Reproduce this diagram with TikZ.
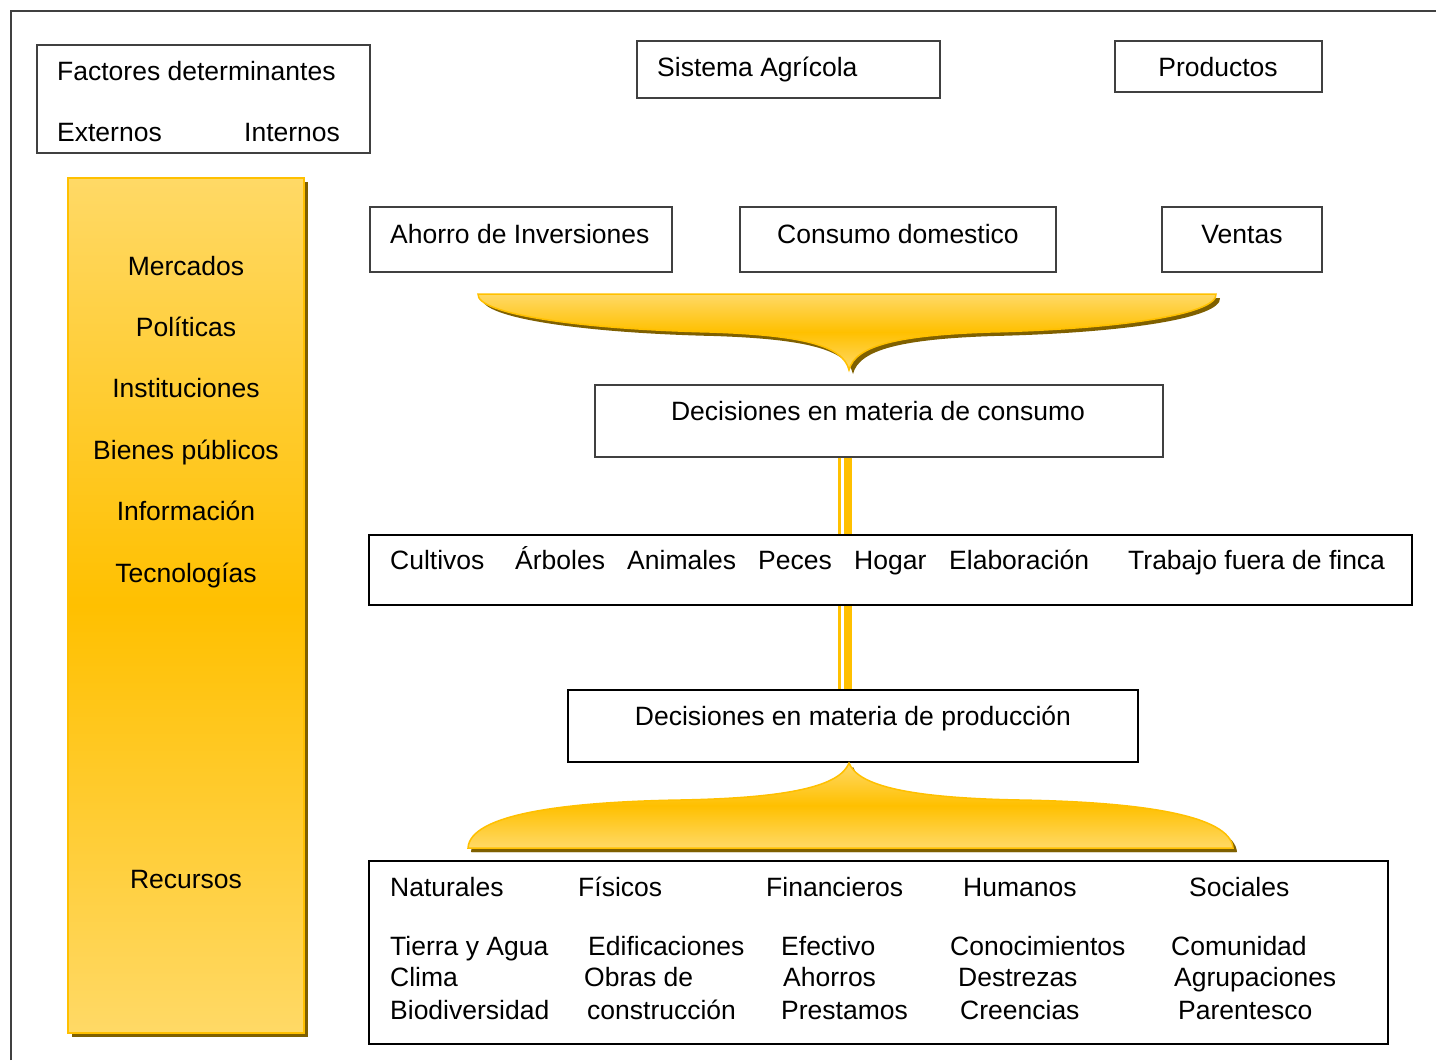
\documentclass[tikz,border=0pt]{standalone}
\usepackage{fontspec}
\setmainfont{Liberation Sans}
\usetikzlibrary{shadows}

\definecolor{oro}{RGB}{255,192,0}
\definecolor{oroclaro}{RGB}{255,217,102}
\definecolor{sombra}{RGB}{127,96,0}
\definecolor{gris}{RGB}{64,64,64}

\begin{document}
\begin{tikzpicture}[x=1bp,y=-1bp,font=\fontsize{26.5bp}{32bp}\selectfont]
	\tikzstyle{caja}=[draw=gris,line width=1.3bp,inner sep=0pt]
	\tikzstyle{caja fuerte}=[caja,draw=black,line width=2bp]
	\tikzstyle{texto}=[inner sep=0pt,anchor=base west]
	\tikzstyle{centrado}=[inner sep=0pt,anchor=base]
	\tikzstyle{dorado}=[draw=oro,line width=1.5bp,top color=oroclaro,bottom color=oroclaro,middle color=oro,
		general shadow={fill=sombra,shadow xshift=4bp,shadow yshift=-4bp}]
	\tikzstyle{conector}=[draw,line width=8bp,oro]
	\tikzstyle{conector fino}=[draw,line width=3bp,oro]

	\useasboundingbox (0,0) rectangle (1436,1060);
	\draw[gris,line width=1.5bp] (11,1060) -- (11,11) -- (1436,11);

	% cabecera
	\node[caja,minimum width=333bp,minimum height=108bp] (factores) at (203.5,99) {};
	\node[texto] (factores t) at (57,80) {Factores determinantes};
	\node[texto] (externos) at (57,141) {Externos};
	\node[texto] (internos) at (244,141) {Internos};
	\node[caja,minimum width=303bp,minimum height=57bp] (sistema) at (788.5,69.5) {};
	\node[texto] (sistema t) at (657,76) {Sistema Agrícola};
	\node[caja,minimum width=207bp,minimum height=51bp] (productos) at (1218.5,66.5) {};
	\node[centrado] (productos t) at (1218,76) {Productos};

	% columna de factores externos
	\node[dorado,minimum width=236bp,minimum height=855bp,inner sep=0pt] (barra) at (186,605.5) {};
	\node[centrado] (mercados) at (186,275) {Mercados};
	\node[centrado] (politicas) at (186,336) {Políticas};
	\node[centrado] (instituciones) at (186,397) {Instituciones};
	\node[centrado] (bienes) at (186,459) {Bienes públicos};
	\node[centrado] (informacion) at (186,520) {Información};
	\node[centrado] (tecnologias) at (186,582) {Tecnologías};
	\node[centrado] (recursos t) at (186,888) {Recursos};

	% productos
	\node[caja,minimum width=302bp,minimum height=65bp] (ahorro) at (521,239.5) {};
	\node[texto] (ahorro t) at (390,243) {Ahorro de Inversiones};
	\node[caja,minimum width=316bp,minimum height=65bp] (consumo) at (898,239.5) {};
	\node[centrado] (consumo t) at (898,243) {Consumo domestico};
	\node[caja,minimum width=160bp,minimum height=65bp] (ventas) at (1242,239.5) {};
	\node[centrado] (ventas t) at (1242,243) {Ventas};

	\path[dorado] (478,294) -- (1216,294) .. controls (1218,314) and (1120,329) .. (990,332)
		.. controls (900,335) and (855,345) .. (849,370) .. controls (843,345) and (800,335) .. (710,332)
		.. controls (580,329) and (476,314) .. cycle;

	% decisiones
	\node[caja,minimum width=568bp,minimum height=72bp] (dconsumo) at (879,421) {};
	\node[centrado] (dconsumo t) at (878,420) {Decisiones en materia de consumo};

	\node[caja fuerte,minimum width=1043bp,minimum height=70bp] (actividades) at (890.5,570) {};
	\node[texto] (cultivos) at (390,569) {Cultivos};
	\node[texto] (arboles) at (515,569) {Árboles};
	\node[texto] (animales) at (627,569) {Animales};
	\node[texto] (peces) at (758,569) {Peces};
	\node[texto] (hogar) at (854,569) {Hogar};
	\node[texto] (elaboracion) at (949,569) {Elaboración};
	\node[texto] (trabajo) at (1128,569) {Trabajo fuera de finca};

	\node[caja fuerte,minimum width=570bp,minimum height=72bp] (dprod) at (853,726) {};
	\node[centrado] (dprod t) at (853,725) {Decisiones en materia de producción};

	\coordinate (eje) at (847.5,0);
	\coordinate (eje fino) at (839.5,0);
	\draw[conector] (dconsumo.south -| eje) -- (actividades.north -| eje);
	\draw[conector fino] (dconsumo.south -| eje fino) -- (actividades.north -| eje fino);
	\draw[conector] (actividades.south -| eje) -- (dprod.north -| eje);
	\draw[conector fino] (actividades.south -| eje fino) -- (dprod.north -| eje fino);

	\path[dorado,general shadow={fill=sombra,shadow xshift=3bp,shadow yshift=-4bp}]
		(468,848) .. controls (470,815) and (560,802) .. (680,800)
		.. controls (790,798) and (840,786) .. (849,763) .. controls (858,786) and (910,798) .. (1020,800)
		.. controls (1140,802) and (1230,815) .. (1233,848) -- cycle;

	% recursos
	\node[caja fuerte,minimum width=1019bp,minimum height=183bp] (recursos) at (878.5,952.5) {};
	\node[texto] (naturales) at (390,896) {Naturales};
	\node[texto] (fisicos) at (578,896) {Físicos};
	\node[texto] (financieros) at (766,896) {Financieros};
	\node[texto] (humanos) at (963,896) {Humanos};
	\node[texto] (sociales) at (1189,896) {Sociales};

	\node[texto] (tierra) at (390,955) {Tierra y Agua};
	\node[texto] (clima) at (390,986) {Clima};
	\node[texto] (biodiversidad) at (390,1019) {Biodiversidad};
	\node[texto] (edificaciones) at (588,955) {Edificaciones};
	\node[texto] (obras) at (584,986) {Obras de};
	\node[texto] (construccion) at (587,1019) {construcción};
	\node[texto] (efectivo) at (781,955) {Efectivo};
	\node[texto] (ahorros) at (783,986) {Ahorros};
	\node[texto] (prestamos) at (781,1019) {Prestamos};
	\node[texto] (conocimientos) at (950,955) {Conocimientos};
	\node[texto] (destrezas) at (958,986) {Destrezas};
	\node[texto] (creencias) at (960,1019) {Creencias};
	\node[texto] (comunidad) at (1171,955) {Comunidad};
	\node[texto] (agrupaciones) at (1174,986) {Agrupaciones};
	\node[texto] (parentesco) at (1178,1019) {Parentesco};
\end{tikzpicture}
\end{document}
